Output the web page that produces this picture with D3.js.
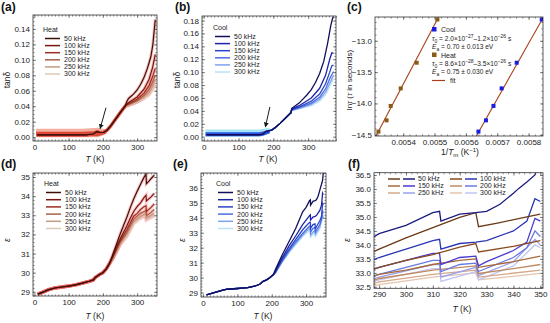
<!DOCTYPE html>
<html><head><meta charset="utf-8">
<script src="https://cdn.jsdelivr.net/npm/d3@7"></script>
<style>body{margin:0;background:#fff}svg{display:block}text{font-family:"Liberation Sans",Arial,sans-serif}</style>
</head><body><svg id="c" width="550" height="323"></svg>
<script>
// ---------------- DATA ----------------
const freqs = ["50 kHz","100 kHz","150 kHz","200 kHz","250 kHz","300 kHz"];
const heatColors = ["#3d0f08","#7a1510","#9a2d20","#a86048","#c49a80","#dcc8b4"];
const coolColors = ["#10105a","#1c24a8","#2a44c8","#4a6ede","#82a2ee","#b8e2f6"];
const heatColorsF = ["#6b3a18","#8a4a1c","#a86a38","#c08a60","#d4a888","#e4c4ac"];
const coolColorsF = ["#1a1a80","#2a35b5","#4a3ad0","#6a78e0","#98a0ee","#c0c6f4"];

const tickT = [0,100,200,300];
const tickTan1 = [0,0.02,0.04,0.06,0.08,0.10,0.12,0.14];
const tickTan2 = [0,0.02,0.04,0.06,0.08,0.10,0.12,0.14,0.16,0.18];
const tickInvT = [0.0054,0.0055,0.0056,0.0057,0.0058];
const tickLnTau = [-14.5,-14.0,-13.5,-13.0];
const tickEpsD = [29,30,31,32,33,34,35];
const tickEpsE = [29,30,31,32,33,34,35,36];
const tickTF = [290,300,310,320,330,340,350];
const tickEpsF = [32.5,33.0,33.5,34.0,34.5,35.0,35.5,36.0,36.5];

// (a) tan delta, heating
const tanHeatLow = [[8,0.003],[50,0.003],[100,0.003],[150,0.003],[172,0.004],[182,0.007],[192,0.006],[202,0.006],[212,0.009],[222,0.014],[235,0.022],[248,0.030],[258,0.036],[265,0.040]];
const tanHeatHigh = [
  [[270,0.046],[275,0.050],[290,0.056],[300,0.061],[310,0.068],[320,0.077],[330,0.089],[340,0.104],[346,0.120],[353,0.152]],
  [[270,0.043],[280,0.046],[300,0.052],[320,0.062],[335,0.075],[345,0.090],[353,0.107]],
  [[270,0.042],[300,0.049],[320,0.057],[335,0.067],[345,0.078],[353,0.089]],
  [[270,0.041],[300,0.047],[320,0.054],[335,0.062],[345,0.071],[353,0.080]],
  [[270,0.041],[300,0.046],[320,0.052],[335,0.058],[345,0.066],[353,0.074]],
  [[270,0.040],[300,0.045],[320,0.050],[335,0.055],[345,0.062],[353,0.068]]
];
const tanHeatBand = [[5,0,0.011],[140,0,0.011],[185,0,0.012],[200,0.002,0.011],[210,0.004,0.010]];
const arrowA = [[209,0.038],[192,0.011]];

// (b) tan delta, cooling
const tanCoolLow = [[8,0.003],[100,0.003],[160,0.003],[170,0.004],[178,0.008],[186,0.009],[195,0.010],[205,0.014],[220,0.021],[235,0.029],[248,0.036]];
const tanCoolHigh = [
  [[250,0.037],[253,0.044],[274,0.052],[297,0.065],[309,0.073],[321,0.084],[333,0.098],[345,0.117],[356,0.145],[365,0.172],[370,0.183],[373,0.186]],
  [[250,0.037],[253,0.043],[274,0.048],[309,0.060],[333,0.075],[350,0.095],[362,0.120],[368,0.130],[373,0.129]],
  [[250,0.036],[253,0.042],[274,0.046],[309,0.055],[333,0.066],[350,0.082],[362,0.100],[368,0.110],[373,0.111]],
  [[250,0.036],[253,0.041],[274,0.045],[309,0.052],[333,0.061],[350,0.074],[362,0.090],[373,0.101]],
  [[250,0.036],[253,0.041],[274,0.044],[309,0.050],[333,0.058],[350,0.069],[362,0.083],[373,0.095]],
  [[250,0.036],[253,0.040],[274,0.043],[309,0.048],[333,0.055],[350,0.065],[362,0.078],[373,0.090]]
];
const tanCoolBand = [[5,0,0.011],[160,0,0.011],[170,0.001,0.012],[180,0.003,0.013],[190,0.005,0.013]];
const arrowB = [[190,0.046],[177,0.015]];

// (c) Arrhenius
const invTmHeat = [0.005321,0.005347,0.005360,0.005392,0.005443,0.005509];
const invTmCool = [0.005640,0.005664,0.005688,0.005714,0.005762,0.005842];
const lnTau = [-14.45,-14.27,-14.04,-13.76,-13.35,-12.66];
const fitHeat = [[0.005310,-14.55],[0.005515,-12.60]];
const fitCool = [[0.005630,-14.55],[0.005850,-12.60]];

// (d) permittivity, heating
const epsHeatLow = [[10,28.88],[25,28.98],[40,29.10],[60,29.20],[80,29.25],[100,29.30],[120,29.36],[140,29.45],[160,29.55],[172,29.62],[178,29.75],[190,29.90],[200,30.00],[210,30.20],[220,30.50]];
const epsHeatHigh = [
  [[230,31.00],[240,31.50],[250,32.00],[260,32.45],[270,32.90],[280,33.40],[290,33.85],[300,34.25],[310,34.62],[320,34.98],[326,35.15],[327,34.65],[335,34.80],[345,35.00],[350,35.10]],
  [[230,30.90],[240,31.35],[250,31.75],[260,32.10],[270,32.45],[280,32.85],[290,33.20],[300,33.45],[310,33.65],[320,33.92],[326,34.05],[327,33.75],[340,33.95],[350,34.15]],
  [[230,30.85],[250,31.65],[270,32.25],[290,32.95],[300,33.10],[310,33.30],[320,33.45],[326,33.50],[327,33.20],[340,33.40],[350,33.60]],
  [[230,30.80],[250,31.55],[270,32.10],[290,32.80],[310,33.10],[326,33.25],[327,32.98],[340,33.15],[350,33.30]],
  [[230,30.78],[250,31.50],[270,32.00],[290,32.68],[310,32.95],[326,33.10],[327,32.85],[350,33.10]],
  [[230,30.75],[250,31.45],[270,31.90],[290,32.58],[310,32.85],[326,33.00],[327,32.75],[350,32.98]]
];

// (e) permittivity, cooling
const epsCoolLow = [[10,28.85],[25,28.95],[40,29.05],[55,29.15],[70,29.22],[100,29.27],[130,29.33],[150,29.42],[165,29.55],[175,29.75],[185,29.85],[195,30.00],[205,30.20]];
const epsCoolHigh = [
  [[210,30.50],[230,31.50],[250,32.40],[270,33.30],[290,34.40],[300,34.70],[310,35.15],[312.5,35.20],[313,34.85],[320,35.10],[326,35.15],[330,35.20],[335,35.45],[340,35.85],[342,36.02],[345,36.25],[348,36.50],[350,37.00]],
  [[210,30.40],[230,31.30],[250,32.10],[270,32.80],[290,33.55],[300,33.85],[310,34.15],[312.5,34.20],[313,33.85],[320,34.05],[326,34.10],[330,34.15],[340,34.50],[345,34.85],[348,35.65],[350,35.55]],
  [[210,30.35],[230,31.20],[250,31.90],[270,32.55],[290,33.20],[300,33.45],[310,33.70],[312.5,33.70],[313,33.30],[320,33.55],[326,33.60],[327,33.25],[330,33.40],[340,33.80],[345,34.10],[348,34.95],[350,34.85]],
  [[210,30.30],[230,31.10],[250,31.80],[270,32.40],[290,32.95],[300,33.20],[310,33.45],[312.5,33.45],[313,33.05],[320,33.30],[326,33.35],[327,33.05],[340,33.55],[345,33.90],[348,34.50],[350,34.30]],
  [[210,30.28],[230,31.05],[250,31.70],[270,32.30],[290,32.85],[310,33.30],[312.5,33.30],[313,32.85],[326,33.20],[327,32.90],[340,33.40],[348,34.20],[350,34.00]],
  [[210,30.25],[230,31.00],[250,31.65],[270,32.20],[290,32.75],[310,33.15],[312.5,33.15],[313,32.70],[326,33.05],[327,32.75],[340,33.25],[348,34.00],[350,33.90]]
];

// ---------------- DRAWING ----------------
const svg = d3.select("#c");
const FONT = "'Liberation Sans',Arial,sans-serif";
const defs = svg.append("defs");
defs.append("marker").attr("id","arr").attr("viewBox","0 0 10 10").attr("refX",9).attr("refY",5)
  .attr("markerWidth",5).attr("markerHeight",5).attr("orient","auto-start-reverse")
  .append("path").attr("d","M0,0L10,5L0,10z").attr("fill","#102018");

function panel(o){
  const x = d3.scaleLinear().domain(o.xd).range([o.l,o.r]);
  const y = d3.scaleLinear().domain(o.yd).range([o.b,o.t]);
  const id = "clip"+o.name;
  defs.append("clipPath").attr("id",id).append("rect")
    .attr("x",o.l).attr("y",o.t).attr("width",o.r-o.l).attr("height",o.b-o.t);
  const data = svg.append("g").attr("clip-path",`url(#${id})`);
  const axes = svg.append("g");
  function add(axis,tr){
    const g = axes.append("g").attr("transform",tr).call(axis);
    g.select(".domain").remove();
    g.selectAll("line").attr("stroke","#444").attr("stroke-width",0.6);
    g.selectAll("text").attr("font-size",8).attr("fill","#222").attr("font-family",FONT);
    return g;
  }
  const xm = d3.range(o.xmr[0],o.xmr[1]+1e-9,o.xmr[2]);
  const ym = d3.range(o.ymr[0],o.ymr[1]+1e-9,o.ymr[2]);
  add(d3.axisBottom(x).tickValues(o.xt).tickSize(-3).tickSizeOuter(0).tickPadding(3).tickFormat(o.xf),`translate(0,${o.b})`);
  add(d3.axisBottom(x).tickValues(xm).tickSize(-1.6).tickSizeOuter(0).tickFormat(""),`translate(0,${o.b})`);
  add(d3.axisTop(x).tickValues(o.xt).tickSize(-3).tickSizeOuter(0).tickFormat(""),`translate(0,${o.t})`);
  add(d3.axisTop(x).tickValues(xm).tickSize(-1.6).tickSizeOuter(0).tickFormat(""),`translate(0,${o.t})`);
  add(d3.axisLeft(y).tickValues(o.yt).tickSize(-3).tickSizeOuter(0).tickPadding(3).tickFormat(o.yf),`translate(${o.l},0)`);
  add(d3.axisLeft(y).tickValues(ym).tickSize(-1.6).tickSizeOuter(0).tickFormat(""),`translate(${o.l},0)`);
  add(d3.axisRight(y).tickValues(o.yt).tickSize(-3).tickSizeOuter(0).tickFormat(""),`translate(${o.r},0)`);
  add(d3.axisRight(y).tickValues(ym).tickSize(-1.6).tickSizeOuter(0).tickFormat(""),`translate(${o.r},0)`);
  axes.append("rect").attr("x",o.l).attr("y",o.t).attr("width",o.r-o.l).attr("height",o.b-o.t)
    .attr("fill","none").attr("stroke","#333").attr("stroke-width",0.8);
  return {x,y,data,axes};
}

function letter(t,x,y){
  svg.append("text").attr("x",x).attr("y",y).text(t)
    .attr("font-family","'Liberation Serif','Times New Roman',serif").attr("font-weight","bold").attr("font-size",12).attr("fill","#111");
}
function xlabelT(cx,y){
  const t = svg.append("text").attr("x",cx).attr("y",y).attr("text-anchor","middle").attr("font-size",8.5).attr("fill","#222");
  t.append("tspan").attr("font-style","italic").text("T");
  t.append("tspan").text(" (K)");
}
function ylabel(txt,x,cy,italic){
  svg.append("text").attr("transform",`translate(${x},${cy}) rotate(-90)`).attr("text-anchor","middle")
    .attr("font-size",8.5).attr("fill","#222").attr("font-style",italic?"italic":"normal").text(txt);
}
function lineGen(p){ return d3.line().x(d=>p.x(d[0])).y(d=>p.y(d[1])); }
function legend(title,x0,y0,colors,dy){
  svg.append("text").attr("x",x0-2).attr("y",y0).attr("font-size",7).attr("fill","#222").text(title);
  freqs.forEach((f,i)=>{
    const yy = y0+6.5+dy*i;
    svg.append("line").attr("x1",x0).attr("x2",x0+15).attr("y1",yy).attr("y2",yy).attr("stroke",colors[i]).attr("stroke-width",1.5);
    svg.append("text").attr("x",x0+19).attr("y",yy).attr("dy","0.35em").attr("font-size",7).attr("fill","#222").text(f);
  });
}
const fmtT = d3.format("d");

// ---- (a)
letter("(a)",1,11);
const pa = panel({name:"a",l:33,r:157,t:15,b:141,xd:[-4,358],yd:[-0.005,0.158],xt:tickT,yt:tickTan1,
  xf:fmtT,yf:d3.format(".2f"),xmr:[0,350,10],ymr:[0,0.155,0.005]});
pa.data.append("path").datum(tanHeatBand).attr("fill","#f3b0a0")
  .attr("d",d3.area().x(d=>pa.x(d[0])).y0(d=>pa.y(d[1])).y1(d=>pa.y(d[2])));
pa.data.append("path").datum(tanHeatBand).attr("fill","#d94a35")
  .attr("d",d3.area().x(d=>pa.x(d[0])).y0(d=>pa.y(d[1]+0.001)).y1(d=>pa.y(d[2]-0.004)));
tanHeatHigh.forEach((h,i)=>{
  pa.data.append("path").datum(tanHeatLow.concat(h)).attr("fill","none").attr("stroke","#e84a40").attr("stroke-opacity",0.35).attr("stroke-width",3.2).attr("d",lineGen(pa));
});
tanHeatHigh.slice().reverse().forEach((h,j)=>{
  const i = 5-j;
  pa.data.append("path").datum(tanHeatLow.concat(h)).attr("fill","none").attr("stroke",heatColors[i]).attr("stroke-width",1.2).attr("d",lineGen(pa));
});
pa.data.append("line").attr("x1",pa.x(arrowA[0][0])).attr("y1",pa.y(arrowA[0][1])).attr("x2",pa.x(arrowA[1][0])).attr("y2",pa.y(arrowA[1][1]))
  .attr("stroke","#102018").attr("stroke-width",1).attr("marker-end","url(#arr)");
legend("Heat",45,32,heatColors,7.1);
ylabel("tanδ",10,80,false);
xlabelT(95,162);

// ---- (b)
letter("(b)",175,11);
const pb = panel({name:"b",l:202,r:336,t:16,b:141,xd:[-5,380],yd:[-0.0067,0.187],xt:tickT,yt:tickTan2,
  xf:fmtT,yf:d3.format(".2f"),xmr:[0,380,10],ymr:[0,0.185,0.005]});
pb.data.append("path").datum(tanCoolBand).attr("fill","#a4e4f6")
  .attr("d",d3.area().x(d=>pb.x(d[0])).y0(d=>pb.y(d[1])).y1(d=>pb.y(d[2])));
pb.data.append("path").datum(tanCoolBand).attr("fill","#2a55e0")
  .attr("d",d3.area().x(d=>pb.x(d[0])).y0(d=>pb.y(d[1]+0.0005)).y1(d=>pb.y(d[2]-0.004)));
tanCoolHigh.slice().reverse().forEach((h,j)=>{
  const i = 5-j;
  pb.data.append("path").datum(tanCoolLow.concat(h)).attr("fill","none").attr("stroke",coolColors[i]).attr("stroke-width",1.3).attr("d",lineGen(pb));
});
pb.data.append("line").attr("x1",pb.x(arrowB[0][0])).attr("y1",pb.y(arrowB[0][1])).attr("x2",pb.x(arrowB[1][0])).attr("y2",pb.y(arrowB[1][1]))
  .attr("stroke","#102018").attr("stroke-width",1).attr("marker-end","url(#arr)");
legend("Cool",215,30,coolColors,7.1);
ylabel("tanδ",180,80,false);
xlabelT(268,162);

// ---- (c)
letter("(c)",347,11);
const pc = panel({name:"c",l:375,r:543,t:17,b:136,xd:[0.005310,0.005846],yd:[-14.52,-12.62],xt:tickInvT,yt:tickLnTau,
  xf:d3.format(".4f"),yf:d3.format(".1f"),xmr:[0.00532,0.00584,0.00002],ymr:[-14.5,-12.7,0.1]});
[fitHeat,fitCool].forEach(f=>{
  pc.data.append("path").datum(f).attr("fill","none").attr("stroke","#a8401c").attr("stroke-width",1.1).attr("d",lineGen(pc));
});
pc.data.selectAll(".ph").data(invTmHeat.map((v,i)=>[v,lnTau[i]])).enter().append("rect")
  .attr("x",d=>pc.x(d[0])-2).attr("y",d=>pc.y(d[1])-2).attr("width",4).attr("height",4).attr("fill","#8a5a18");
pc.data.selectAll(".pcool").data(invTmCool.map((v,i)=>[v,lnTau[i]])).enter().append("rect")
  .attr("x",d=>pc.x(d[0])-2).attr("y",d=>pc.y(d[1])-2).attr("width",4).attr("height",4).attr("fill","#1c1ce0");
{
  const lx = 434;
  svg.append("rect").attr("x",lx-2).attr("y",27).attr("width",4.5).attr("height",4.5).attr("fill","#1c1ce0");
  svg.append("text").attr("x",lx+7).attr("y",32).attr("font-size",7).attr("fill","#222").text("Cool");
  function tauLine(y,a,ea,b,eb){
    const t = svg.append("text").attr("x",lx-2).attr("y",y).attr("font-size",6.6).attr("fill","#222");
    t.append("tspan").attr("font-style","italic").text("τ");
    t.append("tspan").attr("font-size",5).attr("dy",1.5).text("0");
    t.append("tspan").attr("dy",-1.5).text(" = "+a+"×10");
    t.append("tspan").attr("font-size",5).attr("dy",-3).text(ea);
    t.append("tspan").attr("dy",3).text("–"+b+"×10");
    t.append("tspan").attr("font-size",5).attr("dy",-3).text(eb);
    t.append("tspan").attr("dy",3).text(" s");
  }
  function eaLine(y,v){
    const t = svg.append("text").attr("x",lx-2).attr("y",y).attr("font-size",6.6).attr("fill","#222");
    t.append("tspan").attr("font-style","italic").text("E");
    t.append("tspan").attr("font-size",5).attr("dy",1.5).text("a");
    t.append("tspan").attr("dy",-1.5).text(" = "+v+" eV");
  }
  tauLine(41,"2.0","−27","1.2","−26");
  eaLine(49,"0.70 ± 0.013");
  svg.append("rect").attr("x",lx-2).attr("y",52.5).attr("width",4.5).attr("height",4.5).attr("fill","#8a5a18");
  svg.append("text").attr("x",lx+7).attr("y",57.5).attr("font-size",7).attr("fill","#222").text("Heat");
  tauLine(66,"8.6","−28","3.5","−26");
  eaLine(74,"0.75 ± 0.030");
  svg.append("line").attr("x1",lx-2).attr("x2",lx+11).attr("y1",80.5).attr("y2",80.5).attr("stroke","#a8401c").attr("stroke-width",1.2);
  svg.append("text").attr("x",lx+16).attr("y",83).attr("font-size",7).attr("fill","#222").text("fit");
}
{
  const t = svg.append("text").attr("transform","translate(352,80) rotate(-90)").attr("text-anchor","middle").attr("font-size",8).attr("fill","#222");
  t.append("tspan").text("ln");
  t.append("tspan").attr("font-style","italic").text("τ");
  t.append("tspan").text(" (");
  t.append("tspan").attr("font-style","italic").text("τ");
  t.append("tspan").text(" in seconds)");
  const u = svg.append("text").attr("x",460).attr("y",155).attr("text-anchor","middle").attr("font-size",8.5).attr("fill","#222");
  u.append("tspan").text("1/");
  u.append("tspan").attr("font-style","italic").text("T");
  u.append("tspan").attr("font-size",6).attr("dy",2).text("m");
  u.append("tspan").attr("dy",-2).text(" (K");
  u.append("tspan").attr("font-size",6).attr("dy",-3.5).text("−1");
  u.append("tspan").attr("dy",3.5).text(")");
}

// ---- (d)
letter("(d)",1,168);
const pd = panel({name:"d",l:33,r:157,t:173,b:296,xd:[-4,358],yd:[28.78,35.21],xt:tickT,yt:tickEpsD,
  xf:fmtT,yf:fmtT,xmr:[0,350,10],ymr:[28.8,35.2,0.2]});
epsHeatHigh.forEach((h,i)=>{
  pd.data.append("path").datum(epsHeatLow.concat(h)).attr("fill","none").attr("stroke","#ea4a48").attr("stroke-opacity",0.3).attr("stroke-width",3.4).attr("d",lineGen(pd));
});
epsHeatHigh.slice().reverse().forEach((h,j)=>{
  const i = 5-j;
  pd.data.append("path").datum(epsHeatLow.concat(h)).attr("fill","none").attr("stroke",heatColors[i]).attr("stroke-width",1.2).attr("d",lineGen(pd));
});
legend("Heat",46,186,heatColors,7.2);
ylabel("ε",10,240,true);
xlabelT(95,319);

// ---- (e)
letter("(e)",173,168);
const pe = panel({name:"e",l:201,r:326,t:173,b:297,xd:[-6,358],yd:[28.7,37.0],xt:tickT,yt:tickEpsE,
  xf:fmtT,yf:fmtT,xmr:[0,350,10],ymr:[28.8,37,0.2]});
epsCoolHigh.slice().reverse().forEach((h,j)=>{
  const i = 5-j;
  pe.data.append("path").datum(epsCoolLow.concat(h)).attr("fill","none").attr("stroke",coolColors[i]).attr("stroke-width",1.3).attr("d",lineGen(pe));
});
legend("Cool",218,186,coolColors,7.2);
ylabel("ε",185,240,true);
xlabelT(263,319);

// ---- (f)
letter("(f)",348,168);
const pf = panel({name:"f",l:374,r:543,t:172.7,b:288.3,xd:[288.1,351],yd:[32.45,36.58],xt:tickTF,yt:tickEpsF,
  xf:fmtT,yf:d3.format(".1f"),xmr:[290,350,2],ymr:[32.5,36.5,0.1]});
[5,4,3,2,1,0].forEach(i=>{
  pf.data.append("path").datum(epsHeatLow.concat(epsHeatHigh[i])).attr("fill","none").attr("stroke",heatColorsF[i]).attr("stroke-width",1.3).attr("d",lineGen(pf));
  pf.data.append("path").datum(epsCoolLow.concat(epsCoolHigh[i])).attr("fill","none").attr("stroke",coolColorsF[i]).attr("stroke-width",1.3).attr("d",lineGen(pf));
});
{
  const cols = [[0,2,4],[1,3,5]];
  const xs = [388,450];
  cols.forEach((c,ci)=>{
    c.forEach((i,ri)=>{
      const yy = 179+7*ri;
      const x0 = xs[ci];
      svg.append("line").attr("x1",x0).attr("x2",x0+12).attr("y1",yy).attr("y2",yy).attr("stroke",heatColorsF[i]).attr("stroke-width",1.5);
      svg.append("line").attr("x1",x0+15).attr("x2",x0+27).attr("y1",yy).attr("y2",yy).attr("stroke",coolColorsF[i]).attr("stroke-width",1.5);
      svg.append("text").attr("x",x0+30).attr("y",yy).attr("dy","0.35em").attr("font-size",7).attr("fill","#222").text(freqs[i]);
    });
  });
}
ylabel("ε",350,240,true);
xlabelT(462,312);
</script></body></html>
